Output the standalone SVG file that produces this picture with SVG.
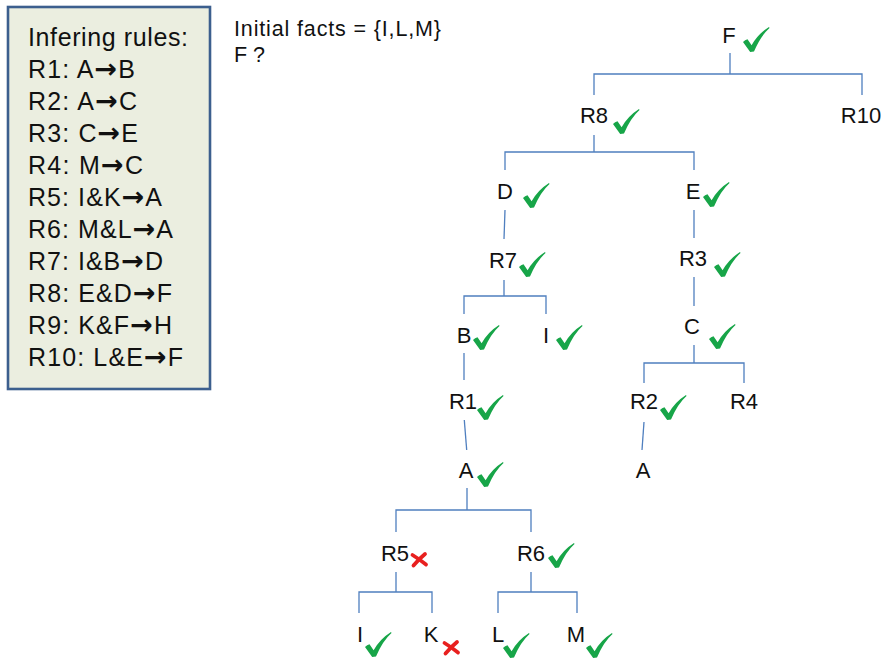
<svg xmlns="http://www.w3.org/2000/svg" xmlns:xlink="http://www.w3.org/1999/xlink" width="886" height="659" viewBox="0 0 886 659">
  <style>
    .lbl { font-family: "Liberation Sans", Arial, Helvetica, sans-serif; font-size: 22px; fill: #111; text-anchor: middle; }
    .rule { font-family: "Liberation Sans", Arial, Helvetica, sans-serif; font-size: 25px; fill: #111; }
    .arr { font-family: "DejaVu Sans", sans-serif; font-weight: bold; font-size: 27px; }
    .note { font-family: "Liberation Sans", Arial, Helvetica, sans-serif; font-size: 21.5px; fill: #111; }
    .edge { fill: none; stroke: #4f7fbf; stroke-width: 1.3; }
  </style>
  <defs>
    <!-- green tick: thick short left arm, long tapering right stroke -->
    <path id="tick" d="M0,15 Q2,12.8 4.5,12.3 L8.6,18.2 Q15,7 26,0 L26.5,1 Q17.5,9 11,24.6 L7.2,25 Z" fill="#17a548"/>
    <!-- red brush cross -->
    <g id="cross" fill="none" stroke="#e8201f" stroke-width="3.8" stroke-linecap="round">
      <path d="M2.5,3 Q9,7 16,12.5"/>
      <path d="M15,2 Q9,7 3.5,13.5"/>
    </g>
  </defs>

  <!-- rule list panel -->
  <g id="rules">
    <rect x="8" y="7" width="202" height="382" fill="#ebeee0" stroke="#3c5f8e" stroke-width="2.6"/>
    <text class="rule" x="28" y="46" textLength="160" lengthAdjust="spacing">Infering rules:</text>
    <text class="rule" x="28" y="78" textLength="107" lengthAdjust="spacing">R1: A<tspan class="arr">→</tspan>B</text>
    <text class="rule" x="28" y="110" textLength="109" lengthAdjust="spacing">R2: A<tspan class="arr">→</tspan>C</text>
    <text class="rule" x="28" y="142" textLength="110" lengthAdjust="spacing">R3: C<tspan class="arr">→</tspan>E</text>
    <text class="rule" x="28" y="174" textLength="115" lengthAdjust="spacing">R4: M<tspan class="arr">→</tspan>C</text>
    <text class="rule" x="28" y="206" textLength="134" lengthAdjust="spacing">R5: I&amp;K<tspan class="arr">→</tspan>A</text>
    <text class="rule" x="28" y="238" textLength="145" lengthAdjust="spacing">R6: M&amp;L<tspan class="arr">→</tspan>A</text>
    <text class="rule" x="28" y="270" textLength="135" lengthAdjust="spacing">R7: I&amp;B<tspan class="arr">→</tspan>D</text>
    <text class="rule" x="28" y="302" textLength="144" lengthAdjust="spacing">R8: E&amp;D<tspan class="arr">→</tspan>F</text>
    <text class="rule" x="28" y="334" textLength="144" lengthAdjust="spacing">R9: K&amp;F<tspan class="arr">→</tspan>H</text>
    <text class="rule" x="28" y="366" textLength="155" lengthAdjust="spacing">R10: L&amp;E<tspan class="arr">→</tspan>F</text>
  </g>

  <g id="question">
    <text class="note" x="234" y="36" textLength="207" lengthAdjust="spacing">Initial facts = {I,L,M}</text>
    <text class="note" x="234" y="62">F ?</text>
  </g>

  <!-- tree connectors -->
  <g id="connectors">
    <path class="edge" d="M730,53 V74 M594,95 V74 H862 V95"/>
    <path class="edge" d="M594,135 V152 M505,170 V152 H694 V170"/>
    <path class="edge" d="M505,210 L504,239"/>
    <path class="edge" d="M694,210 V238"/>
    <path class="edge" d="M504,280 V296 M464,314 V296 H546 V314"/>
    <path class="edge" d="M694,277 V306"/>
    <path class="edge" d="M694,345 V363 M644,383 V363 H744 V383"/>
    <path class="edge" d="M464,353 V380"/>
    <path class="edge" d="M464.3,420 L466.7,450"/>
    <path class="edge" d="M644,422 L642,450"/>
    <path class="edge" d="M467,488 V510 M396,532 V510 H531 V532"/>
    <path class="edge" d="M396,572 V592 M359,613 V592 H432 V613"/>
    <path class="edge" d="M531,572 V592 M498,613 V592 H577 V613"/>
  </g>

  <!-- tree nodes -->
  <g id="n-F"><text class="lbl" x="729" y="43">F</text><use xlink:href="#tick" x="743" y="27"/></g>
  <g id="n-R8"><text class="lbl" x="594" y="123">R8</text><use xlink:href="#tick" x="613" y="109"/></g>
  <g id="n-R10"><text class="lbl" x="861" y="123">R10</text></g>
  <g id="n-D"><text class="lbl" x="505" y="199">D</text><use xlink:href="#tick" x="523" y="183"/></g>
  <g id="n-E"><text class="lbl" x="693" y="199">E</text><use xlink:href="#tick" x="703" y="182"/></g>
  <g id="n-R7"><text class="lbl" x="503" y="268">R7</text><use xlink:href="#tick" x="519" y="252"/></g>
  <g id="n-R3"><text class="lbl" x="693" y="266">R3</text><use xlink:href="#tick" x="714" y="252"/></g>
  <g id="n-B"><text class="lbl" x="464" y="343">B</text><use xlink:href="#tick" x="473" y="325"/></g>
  <g id="n-I1"><text class="lbl" x="546" y="343">I</text><use xlink:href="#tick" x="556" y="325"/></g>
  <g id="n-C"><text class="lbl" x="692" y="334">C</text><use xlink:href="#tick" x="709" y="324"/></g>
  <g id="n-R1"><text class="lbl" x="463" y="409">R1</text><use xlink:href="#tick" x="477" y="395"/></g>
  <g id="n-R2"><text class="lbl" x="644" y="409">R2</text><use xlink:href="#tick" x="660" y="395"/></g>
  <g id="n-R4"><text class="lbl" x="744" y="409">R4</text></g>
  <g id="n-A1"><text class="lbl" x="466" y="478">A</text><use xlink:href="#tick" x="477" y="462"/></g>
  <g id="n-A2"><text class="lbl" x="643" y="478">A</text></g>
  <g id="n-R5"><text class="lbl" x="395" y="561">R5</text><use xlink:href="#cross" x="410" y="552"/></g>
  <g id="n-R6"><text class="lbl" x="531" y="561">R6</text><use xlink:href="#tick" x="548" y="543"/></g>
  <g id="n-I2"><text class="lbl" x="360" y="642">I</text><use xlink:href="#tick" x="365" y="632"/></g>
  <g id="n-K"><text class="lbl" x="431" y="642">K</text><use xlink:href="#cross" x="442" y="640"/></g>
  <g id="n-L"><text class="lbl" x="498" y="642">L</text><use xlink:href="#tick" x="503" y="633"/></g>
  <g id="n-M"><text class="lbl" x="576" y="642">M</text><use xlink:href="#tick" x="586" y="633"/></g>
</svg>
